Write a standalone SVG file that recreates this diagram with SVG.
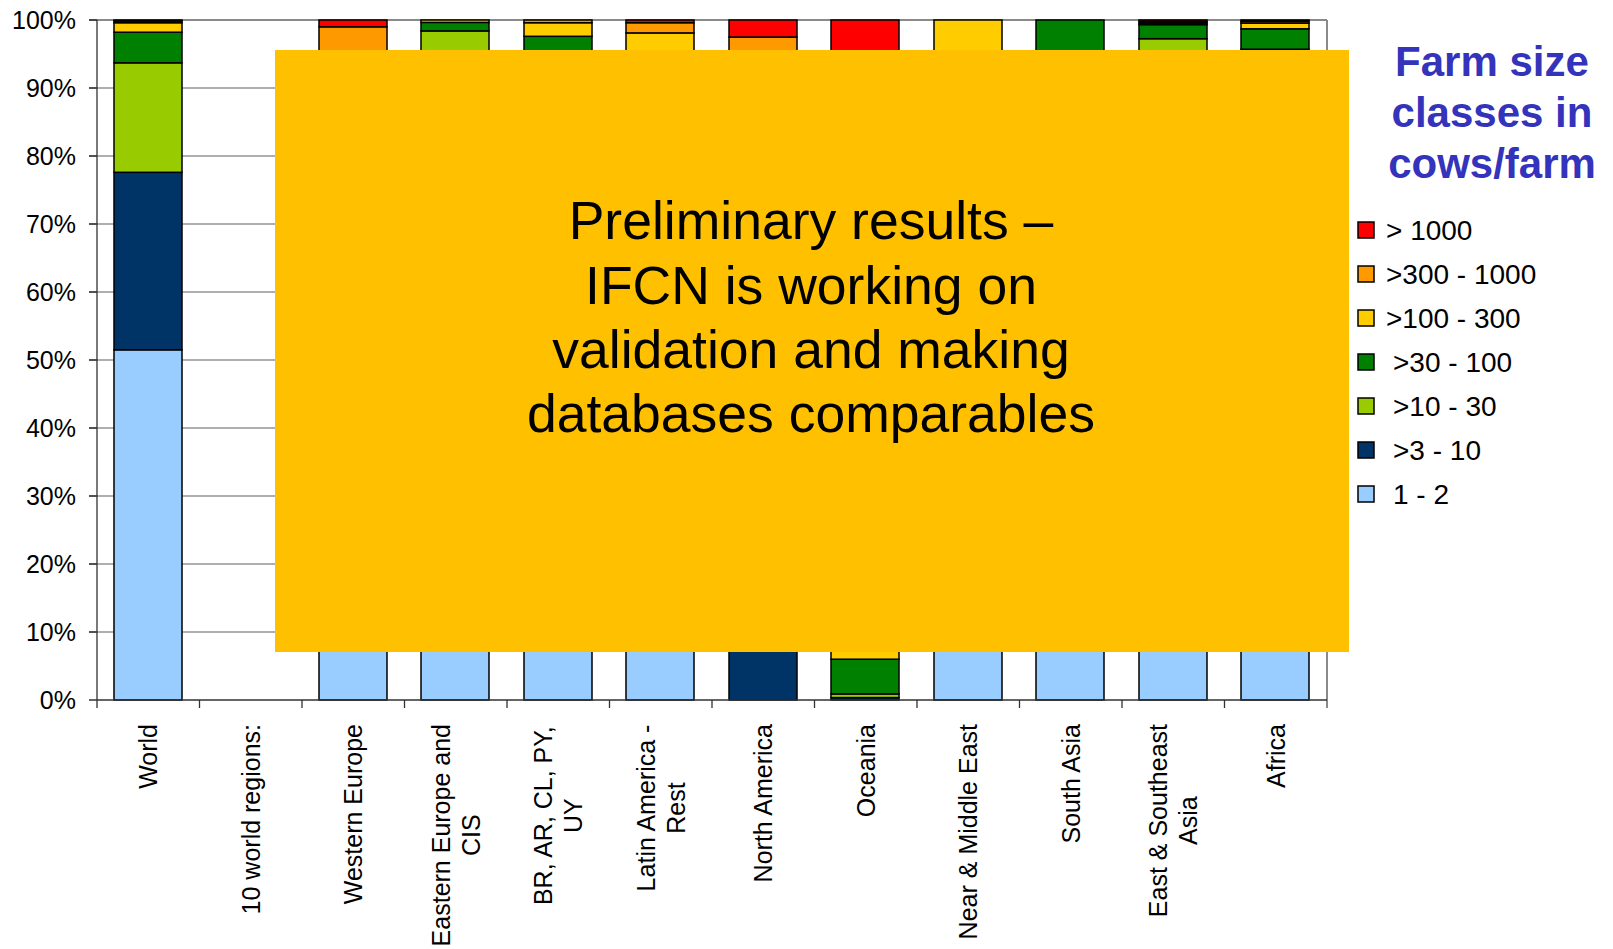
<svg xmlns="http://www.w3.org/2000/svg" width="1613" height="949" viewBox="0 0 1613 949">
<style>
text{font-family:"Liberation Sans",Arial,sans-serif;fill:#000}
.ax{font-size:25px;text-anchor:end}
.cat{font-size:25px}
.grid{stroke:#606060;stroke-width:1.2}
.axis{stroke:#333;stroke-width:1.3;fill:none}
.seg{stroke:#000;stroke-width:1.5}
.c1{fill:#99CCFF}.c2{fill:#003366}.c3{fill:#99CC00}.c4{fill:#008000}.c5{fill:#FFCC00}.c6{fill:#FF9900}.c7{fill:#FF0000}
.lg{font-size:28px}
.title{font-size:42px;font-weight:bold;fill:#3333BB;text-anchor:middle}
.note{font-size:53.5px;text-anchor:middle}
</style>
<rect width="1613" height="949" fill="#fff"/>
<g id="gridlines">
<line class="grid" x1="89" y1="632" x2="1327" y2="632"/>
<line class="grid" x1="89" y1="564" x2="1327" y2="564"/>
<line class="grid" x1="89" y1="496" x2="1327" y2="496"/>
<line class="grid" x1="89" y1="428" x2="1327" y2="428"/>
<line class="grid" x1="89" y1="360" x2="1327" y2="360"/>
<line class="grid" x1="89" y1="292" x2="1327" y2="292"/>
<line class="grid" x1="89" y1="224" x2="1327" y2="224"/>
<line class="grid" x1="89" y1="156" x2="1327" y2="156"/>
<line class="grid" x1="89" y1="88" x2="1327" y2="88"/>
<line x1="89" y1="20" x2="1327" y2="20" stroke="#8a8a8a" stroke-width="2"/>
<line x1="1327" y1="20" x2="1327" y2="708" stroke="#8a8a8a" stroke-width="2"/>
</g>
<g id="axis-labels">
<text class="ax" x="76" y="29">100%</text>
<text class="ax" x="76" y="97">90%</text>
<text class="ax" x="76" y="165">80%</text>
<text class="ax" x="76" y="233">70%</text>
<text class="ax" x="76" y="301">60%</text>
<text class="ax" x="76" y="369">50%</text>
<text class="ax" x="76" y="437">40%</text>
<text class="ax" x="76" y="505">30%</text>
<text class="ax" x="76" y="573">20%</text>
<text class="ax" x="76" y="641">10%</text>
<text class="ax" x="76" y="709">0%</text>
</g>
<g id="bar-world">
<rect class="seg c1" x="114" y="349.8" width="68" height="350.2"/>
<rect class="seg c2" x="114" y="172.3" width="68" height="177.5"/>
<rect class="seg c3" x="114" y="62.8" width="68" height="109.5"/>
<rect class="seg c4" x="114" y="32.2" width="68" height="30.6"/>
<rect class="seg c5" x="114" y="22.7" width="68" height="9.5"/>
<rect class="seg c6" x="114" y="21" width="68" height="1.7"/>
<rect class="seg c7" x="114" y="20" width="68" height="1"/>
</g>
<g id="bar-western-europe">
<rect class="seg c1" x="319" y="598" width="68" height="102"/>
<rect class="seg c2" x="319" y="462" width="68" height="136"/>
<rect class="seg c3" x="319" y="292" width="68" height="170"/>
<rect class="seg c4" x="319" y="122" width="68" height="170"/>
<rect class="seg c5" x="319" y="74.4" width="68" height="47.6"/>
<rect class="seg c6" x="319" y="26.8" width="68" height="47.6"/>
<rect class="seg c7" x="319" y="20" width="68" height="6.8"/>
</g>
<g id="bar-eastern-europe">
<rect class="seg c1" x="421" y="428" width="68" height="272"/>
<rect class="seg c2" x="421" y="224" width="68" height="204"/>
<rect class="seg c3" x="421" y="30.9" width="68" height="193.1"/>
<rect class="seg c4" x="421" y="22.4" width="68" height="8.5"/>
<rect class="seg c5" x="421" y="20" width="68" height="2.4"/>
</g>
<g id="bar-br-ar">
<rect class="seg c1" x="524" y="496" width="68" height="204"/>
<rect class="seg c2" x="524" y="326" width="68" height="170"/>
<rect class="seg c3" x="524" y="156" width="68" height="170"/>
<rect class="seg c4" x="524" y="36.3" width="68" height="119.7"/>
<rect class="seg c5" x="524" y="22.7" width="68" height="13.6"/>
<rect class="seg c6" x="524" y="20" width="68" height="2.7"/>
</g>
<g id="bar-latin-america">
<rect class="seg c1" x="626" y="462" width="68" height="238"/>
<rect class="seg c2" x="626" y="292" width="68" height="170"/>
<rect class="seg c3" x="626" y="190" width="68" height="102"/>
<rect class="seg c4" x="626" y="88" width="68" height="102"/>
<rect class="seg c5" x="626" y="32.9" width="68" height="55.1"/>
<rect class="seg c6" x="626" y="22.7" width="68" height="10.2"/>
<rect class="seg c7" x="626" y="20" width="68" height="2.7"/>
</g>
<g id="bar-north-america">
<rect class="seg c2" x="729" y="564" width="68" height="136"/>
<rect class="seg c3" x="729" y="462" width="68" height="102"/>
<rect class="seg c4" x="729" y="224" width="68" height="238"/>
<rect class="seg c5" x="729" y="88" width="68" height="136"/>
<rect class="seg c6" x="729" y="37" width="68" height="51"/>
<rect class="seg c7" x="729" y="20" width="68" height="17"/>
</g>
<g id="bar-oceania">
<rect class="seg c2" x="831" y="697.6" width="68" height="2.4"/>
<rect class="seg c3" x="831" y="693.9" width="68" height="3.7"/>
<rect class="seg c4" x="831" y="659.2" width="68" height="34.7"/>
<rect class="seg c5" x="831" y="530" width="68" height="129.2"/>
<rect class="seg c6" x="831" y="326" width="68" height="204"/>
<rect class="seg c7" x="831" y="20" width="68" height="306"/>
</g>
<g id="bar-near-middle-east">
<rect class="seg c1" x="934" y="428" width="68" height="272"/>
<rect class="seg c2" x="934" y="258" width="68" height="170"/>
<rect class="seg c3" x="934" y="156" width="68" height="102"/>
<rect class="seg c4" x="934" y="88" width="68" height="68"/>
<rect class="seg c5" x="934" y="20" width="68" height="68"/>
</g>
<g id="bar-south-asia">
<rect class="seg c1" x="1036" y="292" width="68" height="408"/>
<rect class="seg c2" x="1036" y="156" width="68" height="136"/>
<rect class="seg c3" x="1036" y="74.4" width="68" height="81.6"/>
<rect class="seg c4" x="1036" y="20" width="68" height="54.4"/>
</g>
<g id="bar-east-southeast-asia">
<rect class="seg c1" x="1139" y="360" width="68" height="340"/>
<rect class="seg c2" x="1139" y="224" width="68" height="136"/>
<rect class="seg c3" x="1139" y="38.7" width="68" height="185.3"/>
<rect class="seg c4" x="1139" y="24.6" width="68" height="14.1"/>
<rect class="seg c5" x="1139" y="23.1" width="68" height="1.5"/>
<rect class="seg c6" x="1139" y="21.6" width="68" height="1.5"/>
<rect class="seg c7" x="1139" y="20" width="68" height="1.6"/>
</g>
<g id="bar-africa">
<rect class="seg c1" x="1241" y="360" width="68" height="340"/>
<rect class="seg c2" x="1241" y="190" width="68" height="170"/>
<rect class="seg c3" x="1241" y="49.2" width="68" height="140.8"/>
<rect class="seg c4" x="1241" y="28.8" width="68" height="20.4"/>
<rect class="seg c5" x="1241" y="23.1" width="68" height="5.7"/>
<rect class="seg c6" x="1241" y="21.4" width="68" height="1.7"/>
<rect class="seg c7" x="1241" y="20" width="68" height="1.4"/>
</g>
<g id="axes">
<path class="axis" d="M97 20V708M89 700H1327"/>
<path class="axis" d="M89 632H97M89 564H97M89 496H97M89 428H97M89 360H97M89 292H97M89 224H97M89 156H97M89 88H97M89 20H97"/>
<path class="axis" d="M199.5 700V708M302 700V708M404.5 700V708M507 700V708M609.5 700V708M712 700V708M814.5 700V708M917 700V708M1019.5 700V708M1122 700V708M1224.5 700V708"/>
</g>
<g id="category-labels">
<text class="cat" text-anchor="end" transform="translate(157.25,724) rotate(-90)">World</text>
<text class="cat" text-anchor="end" transform="translate(259.75,724) rotate(-90)">10 world regions:</text>
<text class="cat" text-anchor="end" transform="translate(362.25,724) rotate(-90)">Western Europe</text>
<text class="cat" text-anchor="middle" transform="translate(449.75,835.2) rotate(-90)">Eastern Europe and<tspan x="0" dy="30">CIS</tspan></text>
<text class="cat" text-anchor="middle" transform="translate(552.25,815.7) rotate(-90)">BR, AR, CL, PY,<tspan x="0" dy="30">UY</tspan></text>
<text class="cat" text-anchor="middle" transform="translate(654.75,808) rotate(-90)">Latin America -<tspan x="0" dy="30">Rest</tspan></text>
<text class="cat" text-anchor="end" transform="translate(772.25,724) rotate(-90)">North America</text>
<text class="cat" text-anchor="end" transform="translate(874.75,724) rotate(-90)">Oceania</text>
<text class="cat" text-anchor="end" transform="translate(977.25,724) rotate(-90)">Near &amp; Middle East</text>
<text class="cat" text-anchor="end" transform="translate(1079.75,724) rotate(-90)">South Asia</text>
<text class="cat" text-anchor="middle" transform="translate(1167.25,820.6) rotate(-90)">East &amp; Southeast<tspan x="0" dy="30">Asia</tspan></text>
<text class="cat" text-anchor="end" transform="translate(1284.75,724) rotate(-90)">Africa</text>
</g>
<g id="overlay-note">
<rect x="275" y="50" width="1074" height="602" fill="#FFC000"/>
<text class="note" x="811" y="239">Preliminary results –</text>
<text class="note" x="811" y="304">IFCN is working on</text>
<text class="note" x="811" y="368">validation and making</text>
<text class="note" x="811" y="432">databases comparables</text>
</g>
<g id="legend">
<text class="title" x="1492" y="76">Farm size</text>
<text class="title" x="1492" y="127">classes in</text>
<text class="title" x="1492" y="178">cows/farm</text>
<rect class="seg c7" x="1358" y="222" width="16" height="16"/>
<text class="lg" x="1386" y="240">&gt; 1000</text>
<rect class="seg c6" x="1358" y="266" width="16" height="16"/>
<text class="lg" x="1386" y="284">&gt;300 - 1000</text>
<rect class="seg c5" x="1358" y="310" width="16" height="16"/>
<text class="lg" x="1386" y="328">&gt;100 - 300</text>
<rect class="seg c4" x="1358" y="354" width="16" height="16"/>
<text class="lg" x="1393" y="372">&gt;30 - 100</text>
<rect class="seg c3" x="1358" y="398" width="16" height="16"/>
<text class="lg" x="1393" y="416">&gt;10 - 30</text>
<rect class="seg c2" x="1358" y="442" width="16" height="16"/>
<text class="lg" x="1393" y="460">&gt;3 - 10</text>
<rect class="seg c1" x="1358" y="486" width="16" height="16"/>
<text class="lg" x="1393" y="504">1 - 2</text>
</g>
</svg>
